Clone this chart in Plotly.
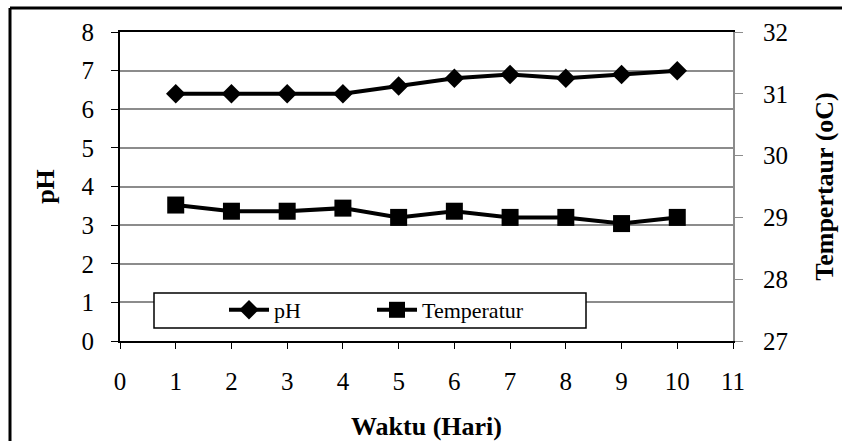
import plotly.graph_objects as go

days = [1, 2, 3, 4, 5, 6, 7, 8, 9, 10]
ph_values = [6.4, 6.4, 6.4, 6.4, 6.6, 6.8, 6.9, 6.8, 6.9, 7.0]
temp_values = [29.2, 29.1, 29.1, 29.15, 29.0, 29.1, 29.0, 29.0, 28.9, 29.0]
x_ticks = list(range(0, 12))

FONT = "Liberation Serif"
TICKFONT = dict(family=FONT, size=25, color="black")
TITLEFONT = dict(family=FONT, size=26, color="black")
LEGFONT = dict(family=FONT, size=22, color="black")

fig = go.Figure()
fig.add_trace(go.Scatter(
    x=days, y=ph_values, name="pH", mode="lines+markers", legend="legend",
    line=dict(color="black", width=4),
    marker=dict(symbol="diamond", size=15, color="black"),
))
fig.add_trace(go.Scatter(
    x=days, y=temp_values, name="Temperatur", mode="lines+markers", yaxis="y2",
    legend="legend2",
    line=dict(color="black", width=4),
    marker=dict(symbol="square", size=17, color="black"),
))

L, R, T, B = 120, 109, 32, 100
W, H = 842, 441
pw, ph = W - L - R, H - T - B

def px_x(x):
    return (x - L) / pw

def px_y(y):
    return (H - B - y) / ph

leg_common = dict(orientation="h", xanchor="left", yanchor="top",
                  bgcolor="rgba(0,0,0,0)", borderwidth=0, font=LEGFONT,
                  itemwidth=40)

fig.update_layout(
    width=W, height=H,
    margin=dict(l=L, r=R, t=T, b=B, autoexpand=False),
    paper_bgcolor="white", plot_bgcolor="white",
    font=dict(family=FONT, size=21, color="black"),
    showlegend=True,
    xaxis=dict(
        range=[0, 11], tickvals=x_ticks, ticktext=[str(v) for v in x_ticks],
        showgrid=False, zeroline=False, automargin=False,
        showline=True, linecolor="black", linewidth=2, mirror=True,
        ticks="outside", ticklen=6, tickcolor="black", tickwidth=1,
        ticklabelstandoff=11, tickfont=TICKFONT,
        title=dict(text="<b>Waktu (Hari)</b>", font=TITLEFONT, standoff=24),
    ),
    yaxis=dict(
        range=[0, 8], dtick=1, automargin=False,
        showgrid=True, gridcolor="#8c8c8c", gridwidth=1.5, zeroline=False,
        showline=True, linecolor="black", linewidth=2,
        ticks="outside", ticklen=7, tickcolor="black", tickwidth=1,
        ticklabelstandoff=12, tickfont=TICKFONT,
        title=dict(text="<b>pH</b>", font=TITLEFONT, standoff=19),
    ),
    yaxis2=dict(
        range=[27, 32], dtick=1, overlaying="y", side="right", automargin=False,
        showgrid=False, zeroline=False,
        showline=True, linecolor="#8c8c8c", linewidth=2,
        ticks="outside", ticklen=8, tickcolor="#8c8c8c", tickwidth=1,
        ticklabelstandoff=15, tickfont=TICKFONT,
        title=dict(text="<b>Tempertaur (oC)</b>", font=TITLEFONT, standoff=28),
    ),
    legend=dict(x=px_x(224), y=px_y(289), **leg_common),
    legend2=dict(x=px_x(372), y=px_y(289), **leg_common),
    shapes=[
        dict(type="rect", xref="paper", yref="paper",
             x0=px_x(154), x1=px_x(586), y0=px_y(328), y1=px_y(293),
             fillcolor="white", line=dict(color="black", width=1.5), layer="above"),
        dict(type="line", xref="paper", yref="paper",
             x0=px_x(10), x1=px_x(845), y0=px_y(8), y1=px_y(8),
             line=dict(color="black", width=3)),
        dict(type="line", xref="paper", yref="paper",
             x0=px_x(10), x1=px_x(10), y0=px_y(8), y1=px_y(445),
             line=dict(color="black", width=3)),
    ],
)

fig.write_html("out.html")
